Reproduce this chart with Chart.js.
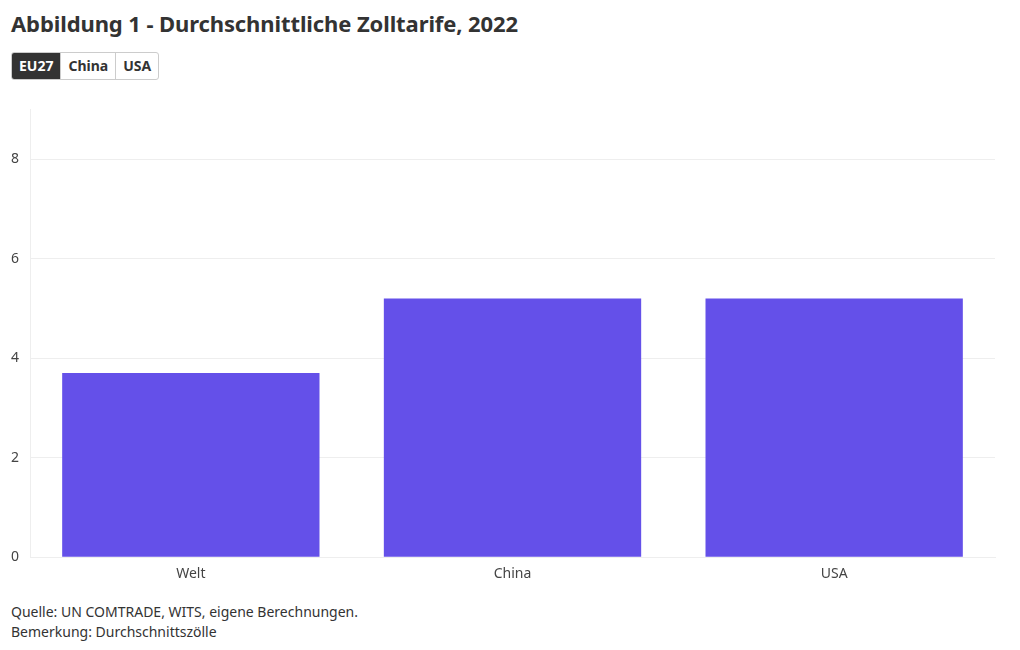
<!DOCTYPE html>
<html lang="de">
<head>
<meta charset="utf-8">
<script src="https://cdn.jsdelivr.net/npm/chart.js@4"></script>
<style>
  body { margin: 0; background: #fff; font-family: "Noto Sans", "Open Sans", sans-serif; color: #333; }
  h1 { position: absolute; left: 11px; top: 8px; margin: 0; font-size: 22px; font-weight: 700; color: #333; letter-spacing: -0.1px; }
  .tabs { position: absolute; left: 11px; top: 52px; display: flex; border: 1px solid #ccc; border-radius: 3px; overflow: hidden; }
  .tabs span { font-size: 14px; font-weight: 700; padding: 4px 7px; height: 18px; line-height: 18px; border-left: 1px solid #ccc; color: #333; }
  .tabs span:first-child { border-left: none; background: #333; color: #fff; }
  .chartBox { position: absolute; left: 0; top: 90px; width: 1000px; height: 502px; }
  .notes { position: absolute; left: 11px; top: 602px; font-size: 14px; line-height: 20px; color: #333; }
</style>
</head>
<body>
<h1>Abbildung 1 - Durchschnittliche Zolltarife, 2022</h1>
<div class="tabs"><span>EU27</span><span>China</span><span>USA</span></div>
<div class="chartBox"><canvas id="chart"></canvas></div>
<div class="notes">Quelle: UN COMTRADE, WITS, eigene Berechnungen.<br>Bemerkung: Durchschnittszölle</div>
<script>
// ? DATA
const categories = ["Welt", "China", "USA"];
const tariffValues = [3.7, 5.2, 5.2];
const yTicks = [0, 2, 4, 6, 8];

const ctx = document.getElementById("chart").getContext("2d");
const chart = new Chart(ctx, {
  type: "bar",
  data: {
    labels: categories,
    datasets: [
      {
        label: "EU27",
        data: tariffValues,
        backgroundColor: "#6450e9",
        borderWidth: 0,
        barPercentage: 0.8,
        categoryPercentage: 1,
      },
    ],
  },
  options: {
    responsive: true,
    maintainAspectRatio: false,
    animation: false,
    layout: { padding: { left: 0, right: 5, top: 8, bottom: 10 } },
    plugins: { legend: { display: false }, tooltip: { enabled: false } },
    scales: {
      x: {
        grid: { display: false },
        border: { color: "#eeeeee" },
        ticks: { color: "#444", font: { family: "Noto Sans", size: 14 }, padding: 0 },
      },
      y: {
        min: 0,
        max: 9,
        afterBuildTicks: (axis) => {
          axis.ticks = yTicks.map((v) => ({ value: v }));
        },
        grid: { color: "#eeeeee", drawTicks: false },
        border: { color: "#eeeeee" },
        ticks: { color: "#444", font: { family: "Noto Sans", size: 14 }, padding: 11 },
      },
    },
  },
});
</script>
</body>
</html>
